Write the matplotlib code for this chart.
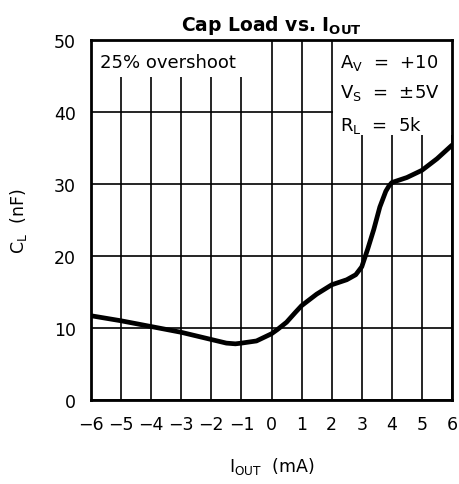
import matplotlib
matplotlib.use("Agg")
import matplotlib.pyplot as plt
from matplotlib.patches import Rectangle

# curva (Iout em mA, CL em nF)
i_out = [-6, -5, -4, -3, -2, -1.5, -1.2, -1, -0.5, 0, 0.2, 0.5, 0.8, 1, 1.5,
         2, 2.5, 2.8, 3, 3.2, 3.4, 3.6, 3.8, 3.9, 4, 4.5, 5, 5.5, 6]
c_load = [11.7, 11.0, 10.2, 9.4, 8.4, 7.9, 7.8, 7.9, 8.2, 9.2, 9.8, 10.8, 12.2, 13.1, 14.7,
          16.0, 16.7, 17.4, 18.5, 21.0, 23.7, 26.8, 29.0, 29.7, 30.2, 30.9, 31.9, 33.5, 35.4]
x_ticks = list(range(-6, 7))
y_ticks = [0, 10, 20, 30, 40, 50]

plt.rcParams["font.family"] = "DejaVu Sans"
plt.rcParams["mathtext.fontset"] = "dejavusans"

fig = plt.figure(figsize=(4.59, 4.85), dpi=100)
ax = fig.add_axes([0.1983, 0.1732, 0.7865, 0.7423])

ax.plot(i_out, c_load, color="black", linewidth=3.4, solid_capstyle="round", zorder=3)

ax.set_xlim(-6, 6)
ax.set_ylim(0, 50)
ax.set_xticks(x_ticks)
ax.set_xticklabels([str(v).replace("-", "\u2212") for v in x_ticks])
ax.set_yticks(y_ticks)
ax.tick_params(length=0, labelsize=12.5, pad=11)
ax.grid(True, color="black", linewidth=1.2)
ax.set_axisbelow(True)
for s in ax.spines.values():
    s.set_linewidth(2)
    s.set_zorder(5)

# fundos brancos das caixas de texto (cortam a grade)
ax.add_patch(Rectangle((0, 0.897), 0.454, 0.103, transform=ax.transAxes,
                       facecolor="white", edgecolor="none", zorder=2))
ax.add_patch(Rectangle((0.67, 0.735), 0.33, 0.265, transform=ax.transAxes,
                       facecolor="white", edgecolor="none", zorder=2))

ax.text(0.025, 0.94, "25% overshoot", transform=ax.transAxes, fontsize=13,
        va="center", ha="left", zorder=4)
ax.text(0.69, 0.94, r"$\mathregular{A_V}$  =  +10", transform=ax.transAxes,
        fontsize=13, va="center", ha="left", zorder=4)
ax.text(0.69, 0.855, r"$\mathregular{V_S}$  =  ±5V", transform=ax.transAxes,
        fontsize=13, va="center", ha="left", zorder=4)
ax.text(0.69, 0.765, r"$\mathregular{R_L}$  =  5k", transform=ax.transAxes,
        fontsize=13, va="center", ha="left", zorder=4)

ax.set_title(r"Cap Load vs. $\mathbf{I_{OUT}}$", fontsize=13.5, fontweight="bold", pad=7)
ax.set_xlabel(r"$\mathregular{I_{OUT}}$  (mA)", fontsize=12.5, labelpad=16)
ax.set_ylabel(r"$\mathregular{C_L}$  (nF)", fontsize=12.5, labelpad=18)

fig.savefig("out.png", dpi=100)
